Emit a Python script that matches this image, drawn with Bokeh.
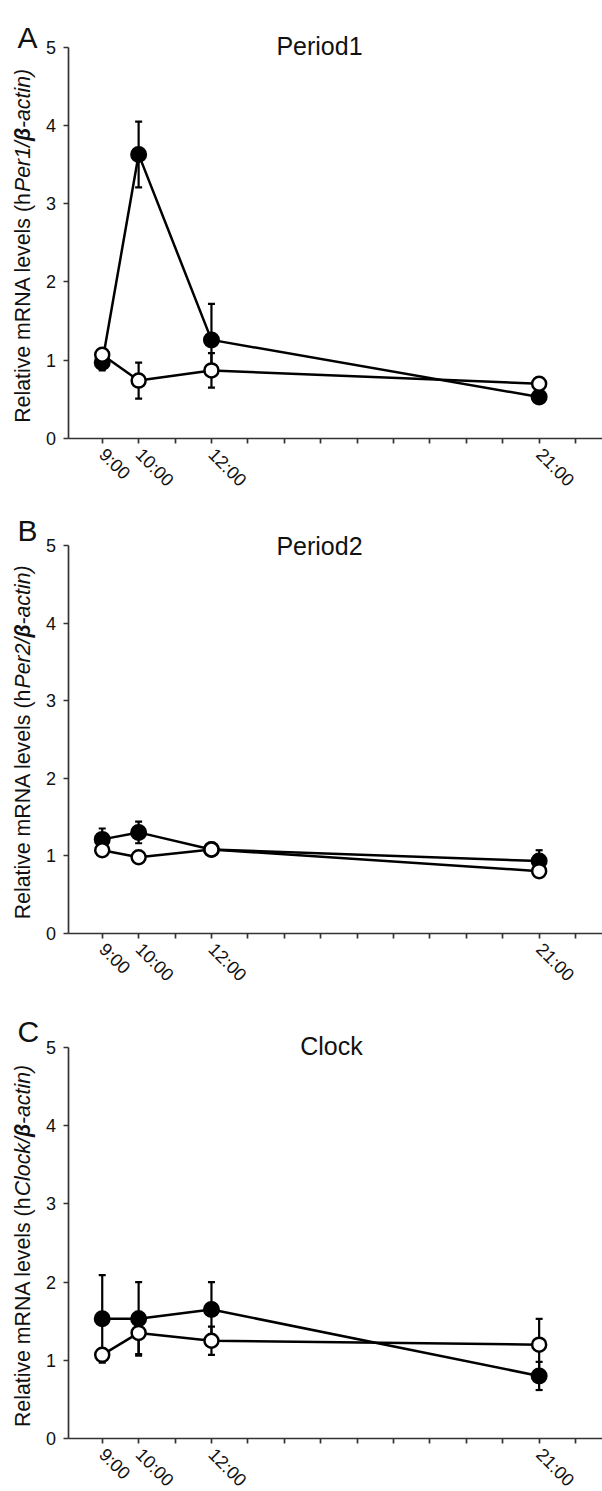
import math
from bokeh.plotting import figure
from bokeh.layouts import column
from bokeh.models import ColumnDataSource, Whisker, TeeHead, Label, FixedTicker, Range1d
from bokeh.embed import file_html
from bokeh.resources import INLINE

# ---------------- data ----------------
times = [9, 10, 12, 21]
tick_hours = list(range(9, 23))
tick_labels = {9: "9:00", 10: "10:00", 12: "12:00", 21: "21:00"}
y_ticks = [0, 1, 2, 3, 4, 5]

per1_filled = [0.97, 3.63, 1.26, 0.53]
per1_filled_err = [0.10, 0.42, 0.46, 0.04]
per1_open = [1.07, 0.74, 0.87, 0.70]
per1_open_err = [0.04, 0.23, 0.22, 0.04]

per2_filled = [1.21, 1.30, 1.08, 0.93]
per2_filled_err = [0.14, 0.14, 0.04, 0.14]
per2_open = [1.07, 0.98, 1.08, 0.80]
per2_open_err = [0.06, 0.03, 0.03, 0.06]

clock_filled = [1.53, 1.53, 1.65, 0.80]
clock_filled_err = [0.56, 0.47, 0.35, 0.18]
clock_open = [1.07, 1.35, 1.25, 1.20]
clock_open_err = [0.03, 0.27, 0.18, 0.33]

panel_letters = ["A", "B", "C"]
panel_titles = ["Period1", "Period2", "Clock"]
gene_labels = ["Per1/", "Per2/", "Clock/"]

series = [
    (per1_filled, per1_filled_err, per1_open, per1_open_err),
    (per2_filled, per2_filled_err, per2_open, per2_open_err),
    (clock_filled, clock_filled_err, clock_open, clock_open_err),
]

# ---------------- layout / style ----------------
FONT = "Liberation Sans"
INK = "#111111"
AX = "#333333"
W = 602
PX_PER_HR = 36.41
AXIS_PAGE_X = 67.5         # page x of the y axis
X_AXIS = 8.06              # hour at the y axis
X_MIN = X_AXIS - AXIS_PAGE_X / PX_PER_HR
X_MAX = X_AXIS + (W - AXIS_PAGE_X) / PX_PER_HR

# figure top/bottom (page px), page y of value 5 and of value 0,
# letter baseline, title baseline, title centre x (page px)
panel_layout = [
    (0, 498, 46.7, 438, 37, 45, 319),
    (498, 1000, 545, 932.7, 530, 545, 319),
    (1000, 1491, 1047, 1438, 1031, 1045, 331),
]

YLAB_SIZE = 21.3
seg_em = {"Relative mRNA levels (h": 10.835, "Per1/": 2.39, "Per2/": 2.39,
          "Clock/": 2.778, "\u03b2": 0.611, "-actin)": 2.778}


def make_panel(i):
    top, bot, y5, y0, letter_base, title_base, title_cx = panel_layout[i]
    H = bot - top
    ppu = (y0 - y5) / 5.0
    y_max = 5 + (y5 - top) / ppu
    y_min = -(bot - y0) / ppu
    filled, ferr, opn, oerr = series[i]

    p = figure(width=W, height=H, x_range=Range1d(X_MIN, X_MAX), y_range=Range1d(y_min, y_max),
               output_backend="svg", toolbar_location=None,
               min_border=0, min_border_left=0, min_border_right=0,
               min_border_top=0, min_border_bottom=0)
    p.grid.visible = False
    p.outline_line_color = None
    p.background_fill_color = "white"
    p.border_fill_color = "white"

    xa = p.xaxis[0]
    xa.fixed_location = 0
    xa.bounds = (X_AXIS, X_MAX)
    xa.ticker = FixedTicker(ticks=tick_hours)
    xa.major_label_overrides = {h: tick_labels.get(h, "") for h in tick_hours}
    xa.major_label_orientation = -math.pi / 4
    xa.major_label_standoff = 8
    xa.major_label_text_font_size = "18px"
    ya = p.yaxis[0]
    ya.fixed_location = X_AXIS
    ya.bounds = (0, 5)
    ya.ticker = FixedTicker(ticks=y_ticks)
    ya.major_label_standoff = 7
    ya.major_label_text_font_size = "18px"
    for ax in (xa, ya):
        ax.axis_line_color = AX
        ax.axis_line_width = 1.7
        ax.major_tick_line_color = AX
        ax.major_tick_line_width = 1.7
        ax.major_tick_out = 5
        ax.major_tick_in = 0
        ax.minor_tick_line_color = None
        ax.major_label_text_font = FONT
        ax.major_label_text_color = INK

    fsrc = ColumnDataSource(dict(x=times, y=filled,
                                 lo=[v - e for v, e in zip(filled, ferr)],
                                 hi=[v + e for v, e in zip(filled, ferr)]))
    osrc = ColumnDataSource(dict(x=times, y=opn,
                                 lo=[v - e for v, e in zip(opn, oerr)],
                                 hi=[v + e for v, e in zip(opn, oerr)]))
    for src in (fsrc, osrc):
        p.add_layout(Whisker(source=src, base="x", upper="hi", lower="lo",
                             line_color="black", line_width=2.2,
                             upper_head=TeeHead(size=7, line_width=2.2, line_color="black"),
                             lower_head=TeeHead(size=7, line_width=2.2, line_color="black")))
    p.line("x", "y", source=fsrc, line_color="black", line_width=2.5)
    p.line("x", "y", source=osrc, line_color="black", line_width=2.5)
    p.scatter("x", "y", source=fsrc, marker="circle", size=15,
              fill_color="black", line_color="black", line_width=2)
    p.scatter("x", "y", source=osrc, marker="circle", size=14,
              fill_color="white", line_color="black", line_width=2.5)

    def page_x(px):
        return X_AXIS + (px - AXIS_PAGE_X) / PX_PER_HR

    def page_y(py):
        return (y0 - py) / ppu

    # panel letter
    p.add_layout(Label(x=page_x(17), y=page_y(letter_base),
                       text=panel_letters[i], text_font=FONT, text_font_size="30px",
                       text_color=INK, text_align="left", text_baseline="alphabetic"))
    # title
    p.add_layout(Label(x=page_x(title_cx), y=page_y(title_base),
                       text=panel_titles[i], text_font=FONT, text_font_size="25px",
                       text_color=INK, text_align="center", text_baseline="alphabetic"))
    # y-axis label composed of styled pieces, rotated
    segs = [("Relative mRNA levels (h", "normal"), (gene_labels[i], "italic"),
            ("\u03b2", "bold italic"), ("-actin)", "italic")]
    total = sum(seg_em[s] for s, _ in segs) * YLAB_SIZE
    start_py = (y0 + y5) / 2 + 3 + total / 2
    xlab = page_x(22)
    for s, style in segs:
        p.add_layout(Label(x=xlab, y=page_y(start_py), text=s, angle=math.pi / 2,
                           text_font=FONT, text_font_size=f"{YLAB_SIZE}px",
                           text_font_style=style, text_color=INK,
                           text_align="left", text_baseline="middle"))
        start_py -= seg_em[s] * YLAB_SIZE
    return p


layout = column(*[make_panel(i) for i in range(3)], spacing=0)
open("out.html", "w").write(file_html(layout, INLINE))
